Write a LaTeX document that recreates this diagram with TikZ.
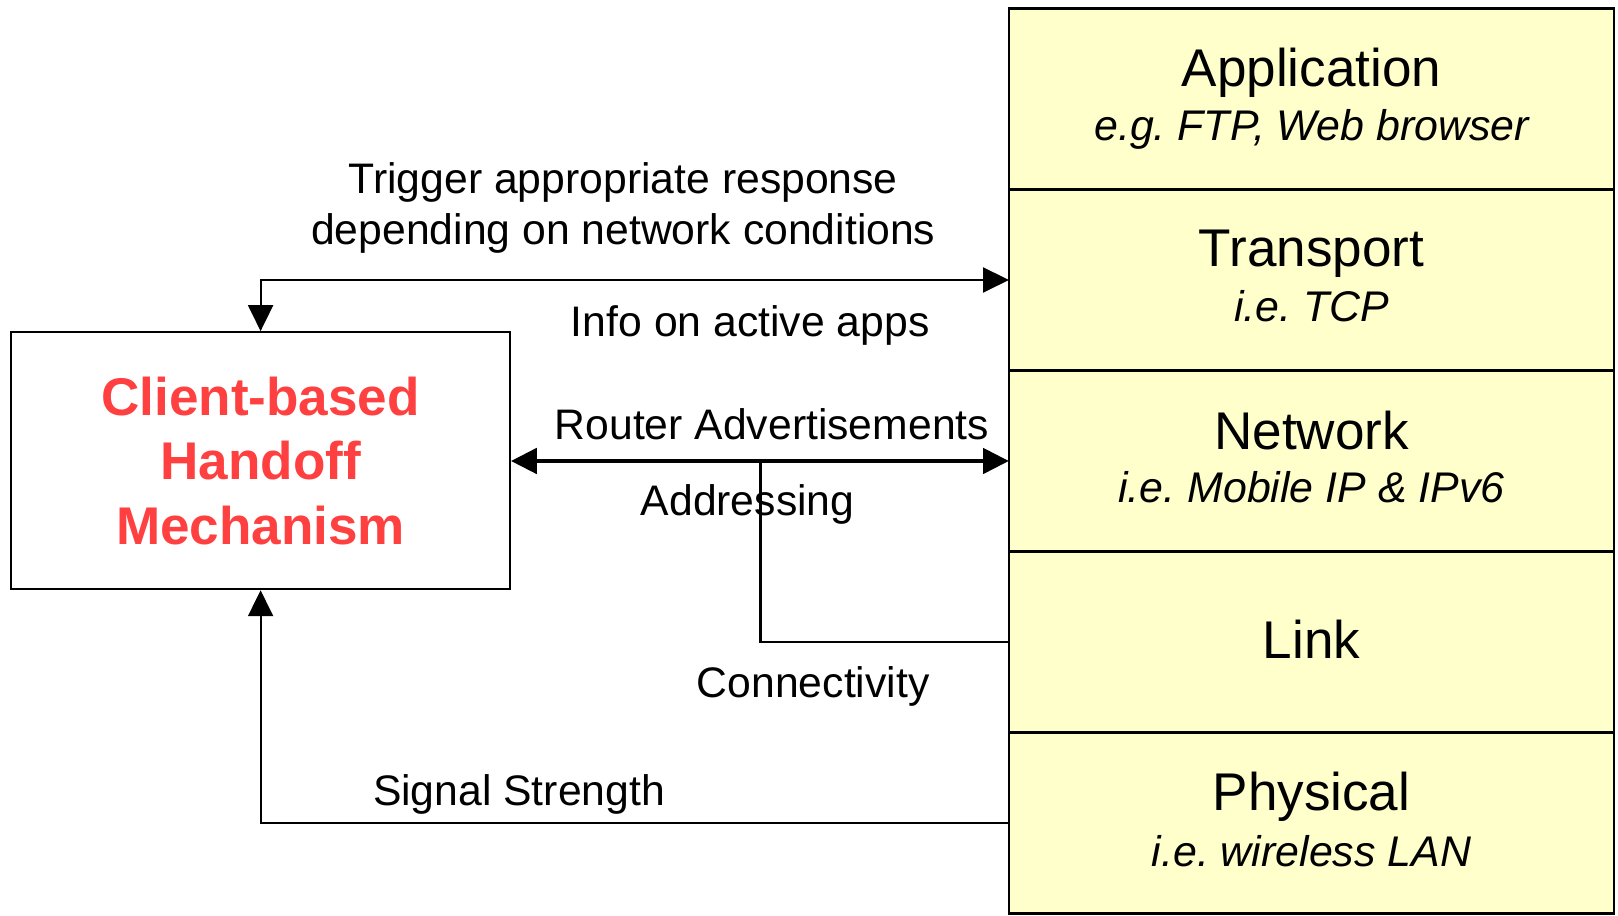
\documentclass[tikz,border=0pt]{standalone}
\usepackage{fontspec}
\setmainfont{Liberation Sans}
\usetikzlibrary{arrows.meta,calc}
\definecolor{layerfill}{HTML}{FFFFCC}
\definecolor{hmred}{HTML}{FF4040}
\frenchspacing
\begin{document}
\begin{tikzpicture}[x=1cm,y=1cm,
  layer/.style={draw=black, line width=0.6pt, fill=layerfill, minimum width=6.05cm, minimum height=1.81cm, inner sep=0pt, outer sep=0pt, anchor=north west},
  ltitle/.style={font=\fontsize{15.1}{18}\selectfont, inner sep=0pt},
  lsub/.style={font=\fontsize{12.2}{14}\selectfont\itshape, inner sep=0pt},
  lbl/.style={font=\fontsize{12.15}{14}\selectfont, inner sep=0pt},
  conn/.style={line width=0.6pt},
  tipend/.style={-{Triangle[length=0.26cm,width=0.25cm]}},
  tipboth/.style={{Triangle[length=0.26cm,width=0.25cm]}-{Triangle[length=0.26cm,width=0.25cm]}},
]
\useasboundingbox (0,0) rectangle (16.18,-9.16);
\fill[white] (0,0) rectangle (16.18,-9.16);

% protocol stack
\node[layer] (app) at (10.09,-0.085) {};
\node[layer] (transport) at (10.09,-1.895) {};
\node[layer] (network) at (10.09,-3.705) {};
\node[layer] (link) at (10.09,-5.515) {};
\node[layer] (physical) at (10.09,-7.325) {};

\node[ltitle] (apptitle) at ($(app.north)+(0,-0.64)$) {Application};
\node[lsub] (appsub) at ($(app.north)+(0,-1.21)$) {e.g. FTP, Web browser};
\node[ltitle] (trtitle) at ($(transport.north)+(0,-0.64)$) {Transport};
\node[lsub] (trsub) at ($(transport.north)+(0,-1.17)$) {i.e. TCP};
\node[ltitle] (nettitle) at ($(network.north)+(0,-0.60)$) {Network};
\node[lsub] (netsub) at ($(network.north)+(0,-1.17)$) {i.e. Mobile IP \& IPv6};
\node[ltitle] (linktitle) at ($(link.north)+(0,-0.875)$) {Link};
\node[ltitle] (phytitle) at ($(physical.north)+(0,-0.64)$) {Physical};
\node[lsub] (physub) at ($(physical.north)+(0,-1.19)$) {i.e. wireless LAN};

% handoff mechanism
\node[draw, conn, minimum width=4.984cm, minimum height=2.57cm, align=center,
      font=\bfseries\fontsize{15.1}{18.35}\selectfont, text=hmred, inner sep=0pt]
      (hm) at (2.606,-4.607) {Client-based\\Handoff\\Mechanism};

% connectors
\draw[conn, tipboth] (hm.north) |- (transport.west);
\draw[line width=1.4pt, tipboth] (network.west -| hm.east) -- (network.west);
\coordinate (j) at ([xshift=-2.485cm]network.west);
\draw[conn] (link.west) -| (j);
\draw[conn, tipend] (physical.west) -| (hm.south);

% labels
\node[lbl] (trig1) at (6.233,-1.826) {Trigger appropriate response};
\node[lbl] (trig2) at (6.233,-2.33) {depending on network conditions};
\node[lbl] (info) at (7.502,-3.256) {Info on active apps};
\node[lbl] (router) at (7.719,-4.241) {Router Advertisements};
\node[lbl] (addr) at (7.476,-5.04) {Addressing};
\node[lbl] (connect) at (8.132,-6.86) {Connectivity};
\node[lbl] (signal) at (5.19,-7.94) {Signal Strength};
\end{tikzpicture}
\end{document}
